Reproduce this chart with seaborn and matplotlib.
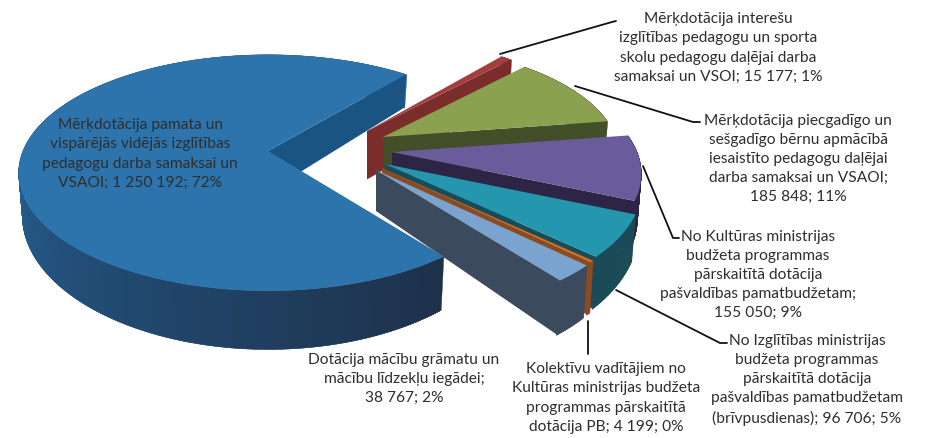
import numpy as np
import matplotlib
matplotlib.use("Agg")
import matplotlib.pyplot as plt
import seaborn as sns

# ---- data (clockwise from the upper right, as drawn) ----
names = [
    "Mērķdotācija interešu\nizglītības pedagogu un sporta\nskolu pedagogu daļējai darba\nsamaksai un VSOI; 15 177; 1%",
    "Mērķdotācija piecgadīgo un\nsešgadīgo bērnu apmācībā\niesaistīto pedagogu daļējai\ndarba samaksai un VSAOI;\n185 848; 11%",
    "No Kultūras ministrijas\nbudžeta programmas\npārskaitītā dotācija\npašvaldības pamatbudžetam;\n155 050; 9%",
    "No Izglītības ministrijas\nbudžeta programmas\npārskaitītā dotācija\npašvaldības pamatbudžetam\n(brīvpusdienas); 96 706; 5%",
    "Kolektīvu vadītājiem no\nKultūras ministrijas budžeta\nprogrammas pārskaitītā\ndotācija PB; 4 199; 0%",
    "Dotācija mācību grāmatu un\nmācību līdzekļu iegādei;\n38 767; 2%",
    "Mērķdotācija pamata un\nvispārējās vidējās izglītības\npedagogu darba samaksai un\nVSAOI; 1 250 192; 72%",
]
values = [15177, 185848, 155050, 96706, 4199, 38767, 1250192]
top_colors = ["#a53d3f", "#8aa24f", "#6a5b9a", "#2496ae", "#d4701f", "#7ba3d0", "#2d74ad"]
wall_colors = ["#7b2d2c", "#434f28", "#2c2546", "#1b4b57", "#8a4a22", "#3b4a5c", "#1a5482"]

# ---- layout ----
START = -50.0
P, Q = 0.185, 0.30
R, RY, D = 245.0, 114.0, 41.0
apexes = [(367, 132), (383, 138), (392, 153), (385, 165), (382, 169), (376, 171), (268, 152)]
radius = [0.97, 0.95, 1.0, 1.03, 1.03, 1.04, 1.0]
depth = [1.18, 1.0, 1.0, 1.0, 1.0, 1.0, 1.0]
label_xy = [(718, 48), (798, 159), (758, 275), (807, 380), (606, 398), (404, 379), (140, 154)]
leaders = [
    [(500, 55), (612, 23), (616, 22)],
    [(575, 87), (693, 123), (700, 123)],
    [(643, 167), (673, 239), (679, 239)],
    [(616, 291), (720, 344), (727, 344)],
    [(588, 322), (588, 355)],
]

sns.set_theme(style="white")
plt.rcParams["font.family"] = ["Lato", "DejaVu Sans"]

fig, ax = plt.subplots(figsize=(9.30, 4.39), dpi=100)
fig.subplots_adjust(0, 0, 1, 1)
ax.set_xlim(0, 930)
ax.set_ylim(439, 0)
ax.axis("off")


def project(theta, apex, r=1.0, wall=0.0):
    t = np.radians(theta)
    X, Y = r * np.cos(t), r * np.sin(t)
    w = 1 - P * Y
    sx = apex[0] + R * X / w
    sy = apex[1] + RY * Y / w
    if wall:
        sy = sy + wall * D / (1 - Q * Y)
        sx = apex[0] + (sx - apex[0]) * 0.985
    return sx, sy


def shade(color, theta, is_main):
    if not is_main:
        return color
    # the long outer wall of the main slice darkens toward the front right
    a = (theta % 360)
    f = np.clip((a - 52) / 125, 0, 1)
    c0 = np.array(matplotlib.colors.to_rgb("#1e3049"))
    c1 = np.array(matplotlib.colors.to_rgb("#245f90"))
    return tuple(c0 + (c1 - c0) * f)


shares = np.array(values, dtype=float) / np.sum(values) * 360
edges = START + np.concatenate([[0], np.cumsum(shares)])

for i, val in enumerate(values):
    a0, a1 = edges[i], edges[i + 1]
    apex, r, d = apexes[i], radius[i], depth[i]
    main = i == len(values) - 1
    th = np.linspace(a0, a1, max(int(a1 - a0) * 2, 4))
    # outer wall
    for t0, t1 in zip(th[:-1], th[1:]):
        tx0, ty0 = project(t0, apex, r)
        tx1, ty1 = project(t1 + 0.3, apex, r)
        bx1, by1 = project(t1 + 0.3, apex, r, d)
        bx0, by0 = project(t0, apex, r, d)
        c = shade(wall_colors[i], (t0 + t1) / 2, main)
        ax.fill([tx0, tx1, bx1, bx0], [ty0, ty1, by1, by0], color=c, lw=0.3, zorder=i + 1)
    # end-edge wall
    ox, oy = project(a1, apex, r)
    ex, ey = project(a1, apex, r, d)
    ax.fill([apex[0], ox, ex, apex[0]], [apex[1], oy, ey, apex[1] + D * d],
            color=wall_colors[i], lw=0, zorder=i + 1)
    # top face
    px, py = project(th, apex, r)
    ax.fill(np.r_[apex[0], px], np.r_[apex[1], py], color=top_colors[i], lw=0, zorder=i + 1.5)

for path in leaders:
    xs, ys = zip(*path)
    ax.plot(xs, ys, color="#111111", lw=1.3, zorder=20, solid_capstyle="round")

for name, (x, y) in zip(names, label_xy):
    ax.text(x, y, name, ha="center", va="center", fontsize=11.2, color="#2e2e2e",
            linespacing=1.47, zorder=30)

fig.savefig("out.png", dpi=100, facecolor="white")
